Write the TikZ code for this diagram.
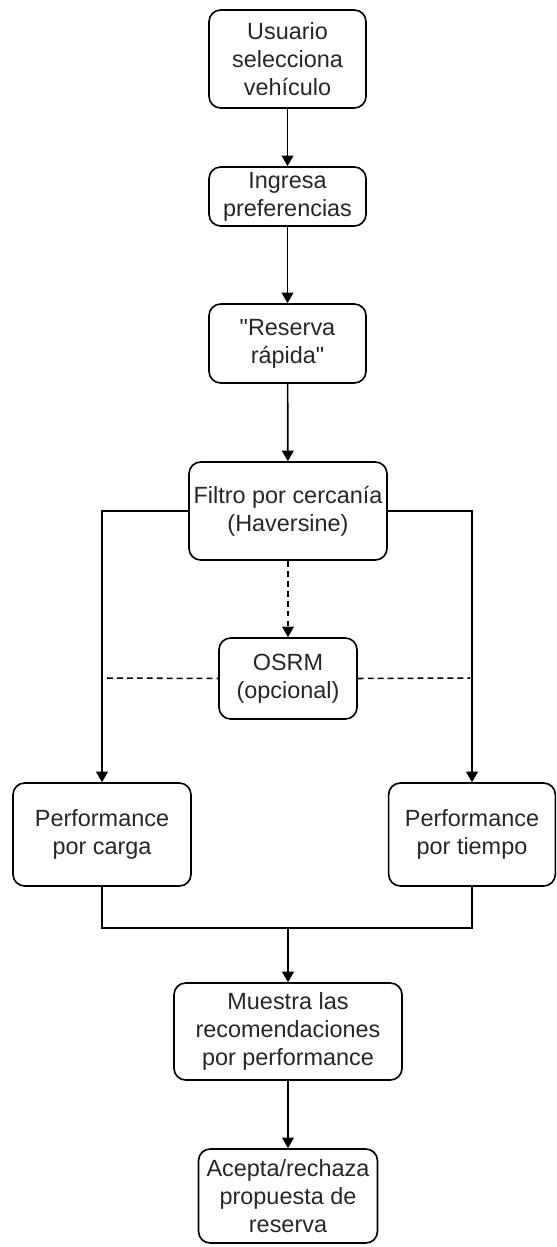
\documentclass[tikz,border=0pt]{standalone}
\usepackage{fontspec}
\setmainfont{Liberation Sans}
\usetikzlibrary{positioning, arrows.meta}

\begin{document}
\begin{tikzpicture}[
    box_style/.style={
        draw=black,
        line width=1.4pt,
        rounded corners=0.35cm,
        text=black!85,
        align=center,
        font=\fontsize{20}{24}\selectfont,
        inner sep=0pt,
        minimum width=4.71cm
    },
    flow/.style={
        line width=1.4pt,
        -{Triangle[length=9pt, width=10pt]}
    },
    opt_line/.style={
        line width=1.3pt,
        dash pattern=on 5pt off 3.5pt
    }
]

\useasboundingbox (0,0) rectangle (16.68,-37.41);

\node[box_style, minimum height=2.94cm] (sel) at (8.625,-1.77) {Usuario\\selecciona\\vehículo};
\node[box_style, minimum height=1.77cm] (pref) at (8.625,-5.895) {Ingresa\\preferencias};
\node[box_style, minimum height=2.37cm] (rap) at (8.625,-10.305) {\textquotedbl Reserva\\rápida\textquotedbl};
\node[box_style, minimum height=2.94cm, minimum width=5.94cm] (filt) at (8.64,-15.33) {Filtro por cercanía\\(Haversine)};
\node[box_style, minimum height=2.43cm, minimum width=4.14cm] (osrm) at (8.64,-20.355) {OSRM\\(opcional)};
\node[box_style, minimum height=3.09cm, minimum width=5.34cm] (carga) at (3.06,-25.035) {Performance\\por carga};
\node[box_style, minimum height=3.09cm, minimum width=5.0cm] (tiempo) at (14.16,-25.035) {Performance\\por tiempo};
\node[box_style, minimum height=2.91cm, minimum width=6.84cm] (recom) at (8.64,-30.945) {Muestra las\\recomendaciones\\por performance};
\node[box_style, minimum height=2.82cm, minimum width=5.37cm] (acep) at (8.64,-35.88) {Acepta/rechaza\\propuesta de\\reserva};

\coordinate (join) at (8.64,-27.84);
\coordinate (dl) at (3.21,-20.34);
\coordinate (dr) at (14.1,-20.34);

\draw[flow] (sel) -- (pref);
\draw[flow] (pref) -- (rap);
\draw[flow] (rap) -- (filt);
\draw[flow, opt_line] (filt) -- (osrm);
\draw[flow] (filt.west) -| (carga.north);
\draw[flow] (filt.east) -| (tiempo.north);

\draw[opt_line] (dl) -- (osrm.west);
\draw[opt_line] (osrm.east) -- (dr);

\draw[line width=1.4pt] (carga.south) |- (join) -| (tiempo.south);
\draw[flow] (join) -- (recom);
\draw[flow] (recom) -- (acep);

\end{tikzpicture}
\end{document}
